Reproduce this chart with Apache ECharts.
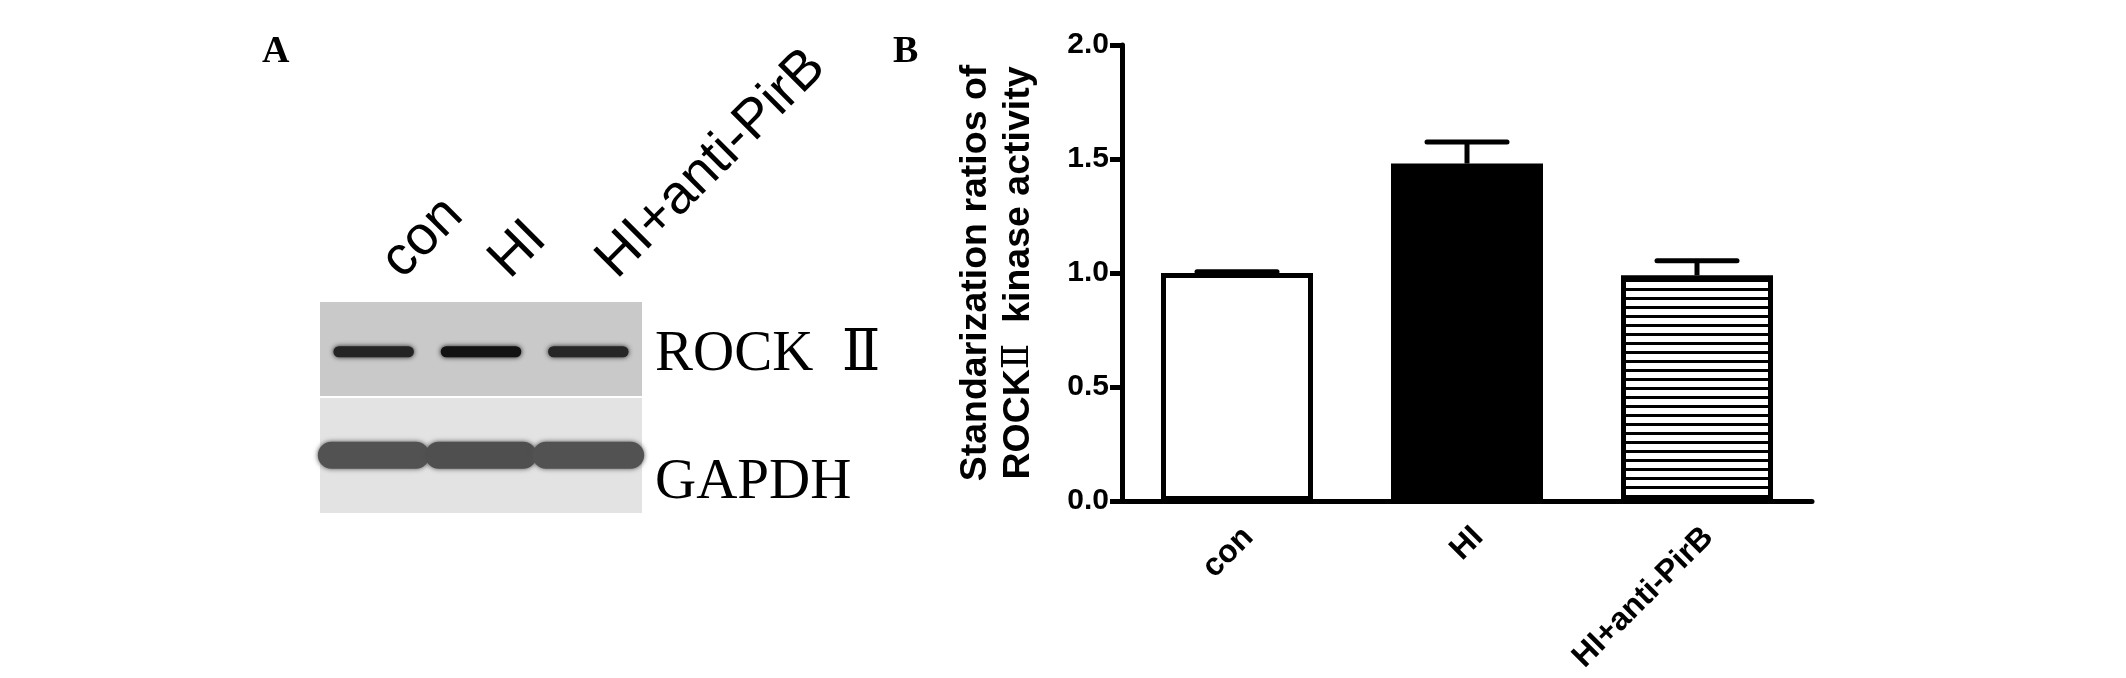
<!DOCTYPE html>
<html><head><meta charset="utf-8">
<script src="https://cdn.jsdelivr.net/npm/echarts@6/dist/echarts.min.js"></script>
<style>html,body{margin:0;padding:0;background:#fff}#c{width:2126px;height:678px}</style>
</head><body><div id="c"></div>
<script>
// ---- data ----
const categories = ['con', 'HI', 'HI+anti-PirB'];
const means = [1.00, 1.48, 0.99];
const errors = [0.005, 0.095, 0.064];
const yMin = 0, yMax = 2.0, yStep = 0.5;
const lanes = ['con', 'HI', 'HI+anti-PirB'];
const proteins = ['ROCK  Ⅱ', 'GAPDH'];
const rockBand = [0.86, 0.93, 0.85];
const gapdhBand = [0.68, 0.69, 0.68];

const SANS = '"Liberation Sans", Arial, sans-serif';
const SERIF = '"Liberation Serif", "DejaVu Serif", "Noto Sans CJK SC", serif';

// stripe pattern for the third bar
const pc = document.createElement('canvas'); pc.width = 8; pc.height = 9;
const pctx = pc.getContext('2d');
pctx.fillStyle = '#fff'; pctx.fillRect(0, 0, 8, 9);
pctx.fillStyle = '#000'; pctx.fillRect(0, 0, 8, 3);

const barStyles = [
  {color: '#fff', borderColor: '#000', borderWidth: 5},
  {color: '#000', borderColor: '#000', borderWidth: 5},
  {color: {image: pc, repeat: 'repeat'}, borderColor: '#000', borderWidth: 5}
];

function renderErr(params, api) {
  const i = api.value(0), m = api.value(1), e = api.value(2);
  const p0 = api.coord([i, m]);
  const p1 = api.coord([i, m + e]);
  const half = 40;
  return {type: 'group', children: [
    {type: 'line', shape: {x1: p0[0], y1: p0[1], x2: p1[0], y2: p1[1]}, style: {stroke: '#000', lineWidth: 5}},
    {type: 'line', shape: {x1: p1[0] - half, y1: p1[1], x2: p1[0] + half, y2: p1[1]}, style: {stroke: '#000', lineWidth: 5, lineCap: 'round'}}
  ]};
}

function renderPanel(params, api) {
  const cs = params.coordSys;
  const p = api.value(1);
  const split = 0.445, gap = 2;
  const y0 = p === 0 ? cs.y : cs.y + cs.height * split + gap;
  const y1 = p === 0 ? cs.y + cs.height * split : cs.y + cs.height;
  return {type: 'rect', shape: {x: cs.x, y: y0, width: cs.width, height: y1 - y0},
    style: {fill: p === 0 ? '#c9c9c9' : '#e3e3e3'}};
}

function renderBand(params, api) {
  const lane = api.value(0), prot = api.value(1), inten = api.value(2);
  const c = api.coord([lane, prot]);
  const s = api.size([1, 1]);
  const g = Math.round(255 * (1 - inten));
  const col = 'rgb(' + g + ',' + g + ',' + g + ')';
  let w, h, dy;
  if (prot === 0) { w = s[0] * 0.75; h = 11; dy = -3; }
  else { w = s[0] * 1.04; h = 27; dy = -5; }
  return {type: 'rect', shape: {x: c[0] - w / 2, y: c[1] + dy - h / 2, width: w, height: h, r: h / 2},
    style: {fill: col, shadowBlur: 5, shadowColor: col}};
}

const chart = echarts.init(document.getElementById('c'), null, {renderer: 'canvas'});
chart.setOption({
  backgroundColor: '#fff',
  animation: false,
  title: [
    {text: 'A', left: 262, top: 33, padding: 0, textStyle: {fontFamily: SERIF, fontWeight: 'bold', fontSize: 38, color: '#000'}},
    {text: 'B', left: 893, top: 33, padding: 0, textStyle: {fontFamily: SERIF, fontWeight: 'bold', fontSize: 38, color: '#000'}}
  ],
  grid: [
    {left: 1122, top: 45, width: 690, height: 456, containLabel: false},
    {left: 320, top: 302, width: 322, height: 211, containLabel: false}
  ],
  xAxis: [
    {type: 'category', gridIndex: 0, data: categories,
      axisLine: {lineStyle: {color: '#000', width: 5}},
      axisTick: {alignWithLabel: true, length: 12, lineStyle: {color: '#000', width: 5}},
      axisLabel: {rotate: 45, interval: 0, margin: 20, verticalAlign: 'top', fontSize: 32, fontWeight: 'bold', fontFamily: SANS, color: '#000'}
    },
    {type: 'category', gridIndex: 1, data: lanes, position: 'top',
      axisLine: {show: false}, axisTick: {show: false},
      axisLabel: {rotate: -45, interval: 0, margin: 15, padding: [0, 0, 0, 25], fontSize: 55, fontFamily: SANS, color: '#000'}
    }
  ],
  yAxis: [
    {type: 'value', gridIndex: 0, min: yMin, max: yMax, interval: yStep,
      axisLine: {show: true, lineStyle: {color: '#000', width: 5}},
      axisTick: {show: true, length: 12, lineStyle: {color: '#000', width: 5}},
      splitLine: {show: false},
      axisLabel: {formatter: v => v.toFixed(1), margin: 13, fontSize: 30, fontWeight: 'bold', fontFamily: SANS, color: '#000'},
      name: 'Standarization ratios of\nROCK{s|Ⅱ}  kinase activity',
      nameLocation: 'middle', nameGap: 82, nameRotate: 90,
      nameTextStyle: {fontFamily: SANS, fontSize: 37.5, fontWeight: 'bold', color: '#000', lineHeight: 43,
        rich: {s: {fontFamily: SERIF, fontSize: 37.5, fontWeight: 'normal', color: '#000', lineHeight: 43}}}
    },
    {type: 'category', gridIndex: 1, data: proteins, inverse: true, position: 'right',
      axisLine: {show: false}, axisTick: {show: false}, splitLine: {show: false},
      axisLabel: {margin: 13, color: '#000', fontFamily: SERIF, fontSize: 57,
        formatter: v => v === 'GAPDH' ? '{g|' + v + '}' : '{r|' + v + '}',
        rich: {r: {fontFamily: SERIF, fontSize: 57, color: '#000'},
               g: {fontFamily: SERIF, fontSize: 57, color: '#000', padding: [46, 0, 0, 0]}}}
    }
  ],
  series: [
    {type: 'bar', xAxisIndex: 0, yAxisIndex: 0, barWidth: 152, z: 2,
      data: means.map((v, i) => ({value: v, itemStyle: barStyles[i]}))},
    {type: 'custom', xAxisIndex: 0, yAxisIndex: 0, z: 3, renderItem: renderErr,
      encode: {x: 0, y: 1},
      data: means.map((v, i) => [i, v, errors[i]])},
    {type: 'custom', xAxisIndex: 1, yAxisIndex: 1, z: 1, renderItem: renderPanel, clip: false,
      encode: {x: 0, y: 1},
      data: proteins.map((p, i) => [0, i])},
    {type: 'custom', xAxisIndex: 1, yAxisIndex: 1, z: 2, renderItem: renderBand, clip: false,
      encode: {x: 0, y: 1},
      data: lanes.flatMap((l, i) => [[i, 0, rockBand[i]], [i, 1, gapdhBand[i]]])}
  ]
});
</script></body></html>
